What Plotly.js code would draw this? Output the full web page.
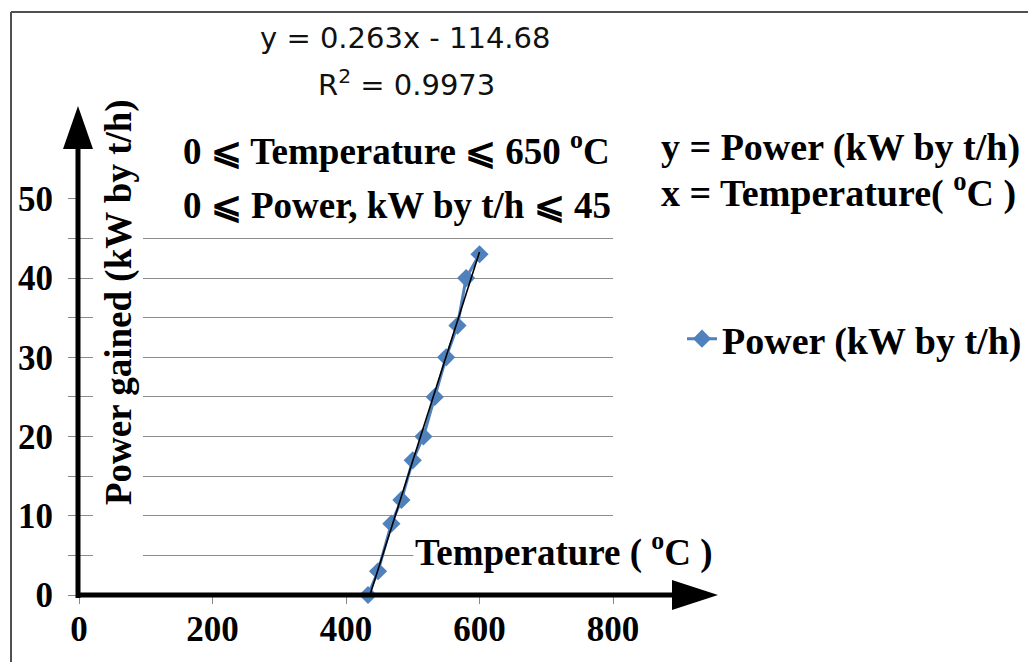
<!DOCTYPE html>
<html>
<head>
<meta charset="utf-8">
<script src="https://cdn.plot.ly/plotly-3.0.1.min.js"></script>
<style>html,body{margin:0;padding:0;background:#fff;}#chart{width:1028px;height:662px;}</style>
</head>
<body>
<div id="chart"></div>
<script>
// ---- data ----
var temperature = [433, 448, 468, 483, 500, 516, 533, 550, 567, 580, 600];
var power = [0, 3, 9, 12, 17, 20, 25, 30, 34, 40, 43];
var seriesName = 'Power (kW by t/h)';
var xTickVals = [0, 200, 400, 600, 800];
var yTickVals = [0, 10, 20, 30, 40, 50];
var equationText = 'y = 0.263x - 114.68';
var r2Text = 'R<sup>2</sup> = 0.9973';
var xTitle = 'Temperature ( <sup>o</sup>C )';
var yTitle = 'Power gained (kW by t/h)';
var rangeTempText = '0 \u2A7D Temperature \u2A7D 650 <sup>o</sup>C';
var rangePowerText = '0 \u2A7D Power, kW by t/h \u2A7D 45';
var defYText = 'y = Power (kW by t/h)';
var defXText = 'x = Temperature( <sup>o</sup>C )';

// linear trendline from the data
var n = temperature.length, sx = 0, sy = 0, sxx = 0, sxy = 0;
for (var i = 0; i < n; i++) { sx += temperature[i]; sy += power[i]; sxx += temperature[i]*temperature[i]; sxy += temperature[i]*power[i]; }
var slope = (n*sxy - sx*sy) / (n*sxx - sx*sx);
var intercept = (sy - slope*sx) / n;
var tMin = Math.min.apply(null, temperature), tMax = Math.max.apply(null, temperature);
var trendX = [tMin, tMax];
var trendY = [slope*tMin + intercept, slope*tMax + intercept];

// ---- layout geometry ----
var L = 79, R = 415, T = 198, B = 67;
var PW = 1028 - L - R, PH = 662 - T - B;
function px(x) { return (x - L) / PW; }
function py(y) { return (662 - B - y) / PH; }

var serif = 'Liberation Serif, Times New Roman, serif';
var black = '#000000';
var fontBig = {family: serif, size: 37, color: black, weight: 'bold'};
var fontRight = {family: serif, size: 38, color: black, weight: 'bold'};

var traces = [
  {
    x: temperature, y: power, name: seriesName, type: 'scatter', mode: 'lines+markers',
    line: {color: '#4F81BD', width: 3},
    marker: {symbol: 'diamond', size: 14, color: '#4F81BD'},
    cliponaxis: false
  },
  {
    x: trendX, y: trendY, type: 'scatter', mode: 'lines', showlegend: false,
    line: {color: '#000000', width: 1.6}, hoverinfo: 'skip'
  }
];

var shapes = [
  // outer frame
  {type: 'line', xref: 'paper', yref: 'paper', x0: px(11), x1: px(11), y0: py(12), y1: py(662), line: {color: '#505050', width: 2}},
  {type: 'line', xref: 'paper', yref: 'paper', x0: px(11), x1: px(1028), y0: py(12), y1: py(12), line: {color: '#505050', width: 2}},
  // white box behind y title
  {type: 'rect', xref: 'paper', yref: 'paper', x0: px(93), x1: px(143), y0: py(588), y1: py(188), fillcolor: '#ffffff', line: {width: 0}, layer: 'above'},
  // y axis with arrow
  {type: 'line', xref: 'paper', yref: 'paper', x0: px(78), x1: px(78), y0: py(598), y1: py(146), line: {color: black, width: 5}, layer: 'above'},
  {type: 'path', xref: 'paper', yref: 'paper', path: 'M' + px(78) + ',' + py(106) + ' L' + px(63) + ',' + py(149) + ' L' + px(93) + ',' + py(149) + ' Z', fillcolor: black, line: {width: 0}, layer: 'above'},
  // x axis with arrow
  {type: 'line', xref: 'paper', yref: 'paper', x0: px(76), x1: px(676), y0: py(595), y1: py(595), line: {color: black, width: 5}, layer: 'above'},
  {type: 'path', xref: 'paper', yref: 'paper', path: 'M' + px(718) + ',' + py(595) + ' L' + px(672) + ',' + py(580) + ' L' + px(672) + ',' + py(610) + ' Z', fillcolor: black, line: {width: 0}, layer: 'above'}
];

var annotations = [
  {text: equationText, xref: 'paper', yref: 'paper', x: px(405), y: py(38), xanchor: 'center', yanchor: 'middle', showarrow: false,
   font: {family: 'DejaVu Sans, sans-serif', size: 29, color: '#111111'}},
  {text: r2Text, xref: 'paper', yref: 'paper', x: px(407), y: py(83), xanchor: 'center', yanchor: 'middle', showarrow: false,
   font: {family: 'DejaVu Sans, sans-serif', size: 29, color: '#111111'}},
  {text: rangeTempText, xref: 'paper', yref: 'paper', x: px(181), y: py(148), xanchor: 'left', yanchor: 'middle', showarrow: false,
   font: fontBig, bgcolor: '#ffffff'},
  {text: rangePowerText, xref: 'paper', yref: 'paper', x: px(181), y: py(205), xanchor: 'left', yanchor: 'middle', showarrow: false,
   font: fontBig, bgcolor: '#ffffff'},
  {text: defYText, xref: 'paper', yref: 'paper', x: px(659), y: py(147), xanchor: 'left', yanchor: 'middle', showarrow: false,
   font: fontRight},
  {text: defXText, xref: 'paper', yref: 'paper', x: px(659), y: py(190), xanchor: 'left', yanchor: 'middle', showarrow: false,
   font: fontRight},
  {text: xTitle, xref: 'paper', yref: 'paper', x: px(413), y: py(550), xanchor: 'left', yanchor: 'middle', showarrow: false,
   font: fontBig, bgcolor: '#ffffff'},
  {text: yTitle, xref: 'paper', yref: 'paper', x: px(119), y: py(302), xanchor: 'center', yanchor: 'middle', showarrow: false,
   textangle: -90, font: fontBig}
];

var layout = {
  width: 1028, height: 662,
  margin: {l: L, r: R, t: T, b: B, pad: 0, autoexpand: false},
  paper_bgcolor: '#ffffff', plot_bgcolor: '#ffffff',
  showlegend: true,
  legend: {x: px(682), y: py(339), xanchor: 'left', yanchor: 'middle', font: fontRight, bgcolor: 'rgba(0,0,0,0)', borderwidth: 0},
  xaxis: {
    range: [0, 800], tickvals: xTickVals, ticktext: xTickVals.map(String),
    showgrid: false, zeroline: false, showline: false,
    ticks: 'outside', ticklen: 8, tickwidth: 1, tickcolor: '#888888',
    tickfont: {family: serif, size: 35, color: black, weight: 'bold'},
    ticklabelstandoff: -5
  },
  yaxis: {
    range: [0, 50.1], tickvals: yTickVals, ticktext: yTickVals.map(String),
    showgrid: true, gridcolor: '#8c8c8c', gridwidth: 1,
    zeroline: false, showline: false,
    ticks: 'outside', ticklen: 10, tickwidth: 1, tickcolor: '#888888',
    tickfont: {family: serif, size: 35, color: black, weight: 'bold'},
    ticklabelstandoff: 8,
    minor: {dtick: 5, tick0: 0, showgrid: true, gridcolor: '#8c8c8c', gridwidth: 1, ticks: 'outside', ticklen: 10, tickcolor: '#888888'}
  },
  shapes: shapes,
  annotations: annotations
};

Plotly.newPlot('chart', traces, layout, {displayModeBar: false, staticPlot: true});
</script>
</body>
</html>
